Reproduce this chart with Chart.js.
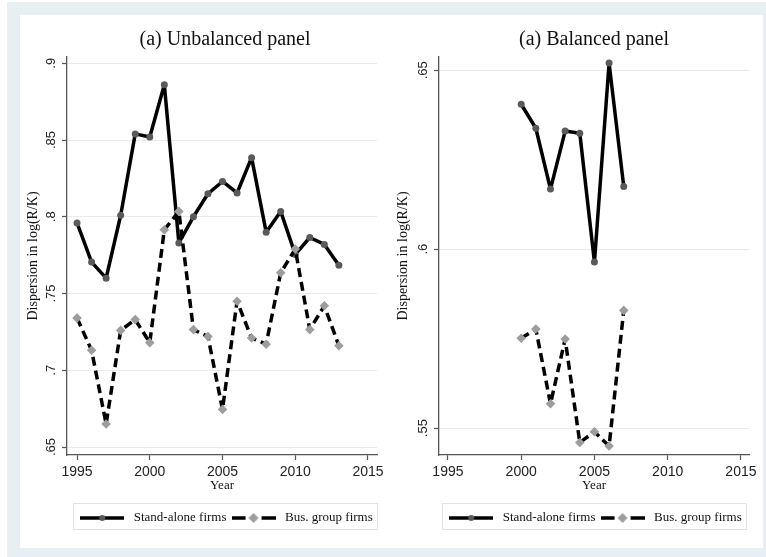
<!DOCTYPE html>
<html><head><meta charset="utf-8">
<script src="https://cdn.jsdelivr.net/npm/chart.js@4.4.0/dist/chart.umd.min.js"></script>
<style>
html,body{margin:0;padding:0;background:#fff;width:766px;height:557px;overflow:hidden;position:relative}
#frame{position:absolute;left:7px;top:2px;width:759px;height:555px;background:#e8eff2}
#inner{position:absolute;left:20px;top:15px;width:743px;height:533px;background:#fff}
canvas{position:absolute;top:15px}
#c1{left:20px}
#c2{left:385px}
</style></head><body>
<div id="frame"></div><div id="inner"></div>
<canvas id="c2" width="378" height="533"></canvas>
<canvas id="c1" width="410" height="533"></canvas>
<script>
// ---- data ----
const yearsUnbalanced = [1995,1996,1997,1998,1999,2000,2001,2002,2003,2004,2005,2006,2007,2008,2009,2010,2011,2012,2013];
const standAloneUnbalanced = [0.796,0.7705,0.760,0.801,0.854,0.852,0.886,0.783,0.800,0.815,0.823,0.8155,0.8385,0.790,0.8035,0.7755,0.7865,0.782,0.7685];
const busGroupUnbalanced = [0.734,0.713,0.665,0.726,0.733,0.718,0.7915,0.8035,0.7265,0.722,0.6745,0.745,0.721,0.717,0.7635,0.779,0.7265,0.742,0.716];

const yearsBalanced = [2000,2001,2002,2003,2004,2005,2006,2007];
const standAloneBalanced = [0.6405,0.6338,0.6168,0.6330,0.6324,0.5964,0.6520,0.6175];
const busGroupBalanced = [0.5751,0.5777,0.5568,0.5749,0.5460,0.5490,0.5450,0.5829];

const xTickValues = [1995,2000,2005,2010,2015];
const xTickLabels = ['1995','2000','2005','2010','2015'];
const yTicksUnbalanced = [0.65,0.7,0.75,0.8,0.85,0.9];
const yTickLabelsUnbalanced = ['.65','.7','.75','.8','.85','.9'];
const yTicksBalanced = [0.55,0.6,0.65];
const yTickLabelsBalanced = ['.55','.6','.65'];
const seriesLabels = ['Stand-alone firms','Bus. group firms'];
const titles = ['(a) Unbalanced panel','(a) Balanced panel'];
const xTitle = 'Year';
const yTitle = 'Dispersion in log(R/K)';

// ---- legend samples ----
function legendSample(kind){
  const c=document.createElement('canvas'); c.width=44; c.height=12;
  const g=c.getContext('2d');
  g.strokeStyle='#000'; g.lineWidth=3.5;
  if(kind==='solid'){
    g.beginPath(); g.moveTo(0,6); g.lineTo(44,6); g.stroke();
    g.fillStyle='#5a5a5a'; g.beginPath(); g.arc(22,6,3,0,Math.PI*2); g.fill();
  } else {
    g.beginPath(); g.moveTo(0,6); g.lineTo(14,6); g.moveTo(30,6); g.lineTo(44,6); g.stroke();
    g.fillStyle='#9d9d9d'; g.beginPath(); g.moveTo(22,1); g.lineTo(27,6); g.lineTo(22,11); g.lineTo(17,6); g.closePath(); g.fill();
  }
  return c;
}
const samples=[legendSample('solid'),legendSample('dash')];

const legendFrame = {
  id:'legendFrame',
  afterDraw(chart){
    const lg=chart.legend; if(!lg||!lg.legendHitBoxes||!lg.legendHitBoxes.length) return;
    const hb=lg.legendHitBoxes, ctx=chart.ctx;
    const l=Math.min(...hb.map(h=>h.left))-4;
    const r=Math.max(...hb.map(h=>h.left+h.width))+4;
    const t=lg.top-6.5, b=lg.top+19.5;
    ctx.save(); ctx.strokeStyle='#e2e2e2'; ctx.lineWidth=1;
    ctx.strokeRect(Math.round(l)+0.5,Math.round(t)+0.5,Math.round(r-l),Math.round(b-t));
    ctx.restore();
  }
};

Chart.defaults.font.family='"Liberation Serif", "Times New Roman", serif';

function makeChart(canvas, p){
  const mk=(xs,ys)=>xs.map((x,i)=>({x:x,y:ys[i]}));
  const scales={
    x:{type:'linear',position:'bottom',min:p.xmin,max:p.xmax,
      afterBuildTicks:s=>{s.ticks=xTickValues.map(v=>({value:v}));},
      afterFit:s=>{s.height=54.5;s.paddingLeft=0;s.paddingRight=0;},
      grid:{display:true,drawOnChartArea:false,drawTicks:true,tickLength:5,tickColor:'#555',tickWidth:1.2},
      border:{display:true,color:'#555',width:1.3},
      ticks:{font:{family:'"Liberation Sans", Arial, sans-serif',size:14},color:'#222',padding:4,maxRotation:0,minRotation:0,autoSkip:false,
        callback:(v,i)=>xTickLabels[i]},
      title:{display:true,text:xTitle,font:{size:13},color:'#111',padding:{top:0,bottom:15.7}}
    },
    y:{type:'linear',position:'left',min:p.ymin,max:p.ymax,
      afterBuildTicks:s=>{s.ticks=p.yTicks.map(v=>({value:v}));},
      afterFit:s=>{s.width=p.yWidth;s.paddingTop=0;s.paddingBottom=0;},
      grid:{color:'#ebebeb',lineWidth:1,drawTicks:true,tickLength:5,tickColor:'#555',tickWidth:1.2},
      border:{display:true,color:'#555',width:1.3},
      ticks:{font:{family:'"Liberation Sans", Arial, sans-serif',size:13},color:'#222',padding:2,minRotation:90,maxRotation:90,crossAlign:'center',
        callback:(v,i)=>p.yLabels[i]},
      title:{display:true,text:yTitle,font:{size:14},color:'#111',padding:{top:p.yTitlePad,bottom:0}}
    }
  };
  if(p.dummyRight){
    scales.yR={type:'linear',position:'right',display:true,
      grid:{display:false,drawTicks:false},border:{display:false},ticks:{display:false},
      afterFit:s=>{s.width=p.dummyRight;s.paddingTop=0;s.paddingBottom=0;}};
  }
  return new Chart(canvas,{
    type:'line',
    data:{datasets:[
      {label:seriesLabels[0],data:mk(p.years,p.sa),borderColor:'#000',borderWidth:3.5,borderJoinStyle:'round',tension:0,fill:false,
       pointStyle:'circle',pointRadius:3.5,pointBackgroundColor:'#5a5a5a',pointBorderWidth:0,order:1},
      {label:seriesLabels[1],data:mk(p.years,p.bg),borderColor:'#000',borderWidth:3.5,borderJoinStyle:'round',borderDash:[9,5],tension:0,fill:false,
       pointStyle:'rectRot',pointRadius:4.8,pointBackgroundColor:'#9d9d9d',pointBorderWidth:0,order:0}
    ]},
    options:{
      responsive:false,devicePixelRatio:1,animation:false,events:[],
      layout:{padding:{left:0,right:p.padRight,top:0,bottom:13.5}},
      scales:scales,
      plugins:{
        tooltip:{enabled:false},
        title:{display:true,text:p.title,font:{size:20,weight:'normal'},color:'#111',padding:{top:13,bottom:5},fullSize:p.fullSize},
        legend:{display:true,position:'bottom',align:'center',fullSize:p.fullSize,
          labels:{usePointStyle:true,pointStyleWidth:50,font:{size:13},color:'#111',padding:2,
            generateLabels:ch=>ch.data.datasets.map((ds,i)=>({text:ds.label,pointStyle:samples[i],fillStyle:'rgba(0,0,0,0)',
              strokeStyle:'rgba(0,0,0,0)',lineWidth:0,hidden:false,datasetIndex:i,fontColor:'#111'}))}}
      }
    },
    plugins:[legendFrame]
  });
}

makeChart(document.getElementById('c1'),{
  years:yearsUnbalanced,sa:standAloneUnbalanced,bg:busGroupUnbalanced,
  xmin:1994.31,xmax:2015.62,ymin:0.6448,ymax:0.9041,
  yTicks:yTicksUnbalanced,yLabels:yTickLabelsUnbalanced,
  yWidth:47,yTitlePad:4.6,padRight:0,dummyRight:53,fullSize:true,title:titles[0]
});
makeChart(document.getElementById('c2'),{
  years:yearsBalanced,sa:standAloneBalanced,bg:busGroupBalanced,
  xmin:1994.39,xmax:2015.55,ymin:0.5425,ymax:0.6537,
  yTicks:yTicksBalanced,yLabels:yTickLabelsBalanced,
  yWidth:54,yTitlePad:9.6,padRight:14,dummyRight:0,fullSize:false,title:titles[1]
});
</script>
</body></html>
